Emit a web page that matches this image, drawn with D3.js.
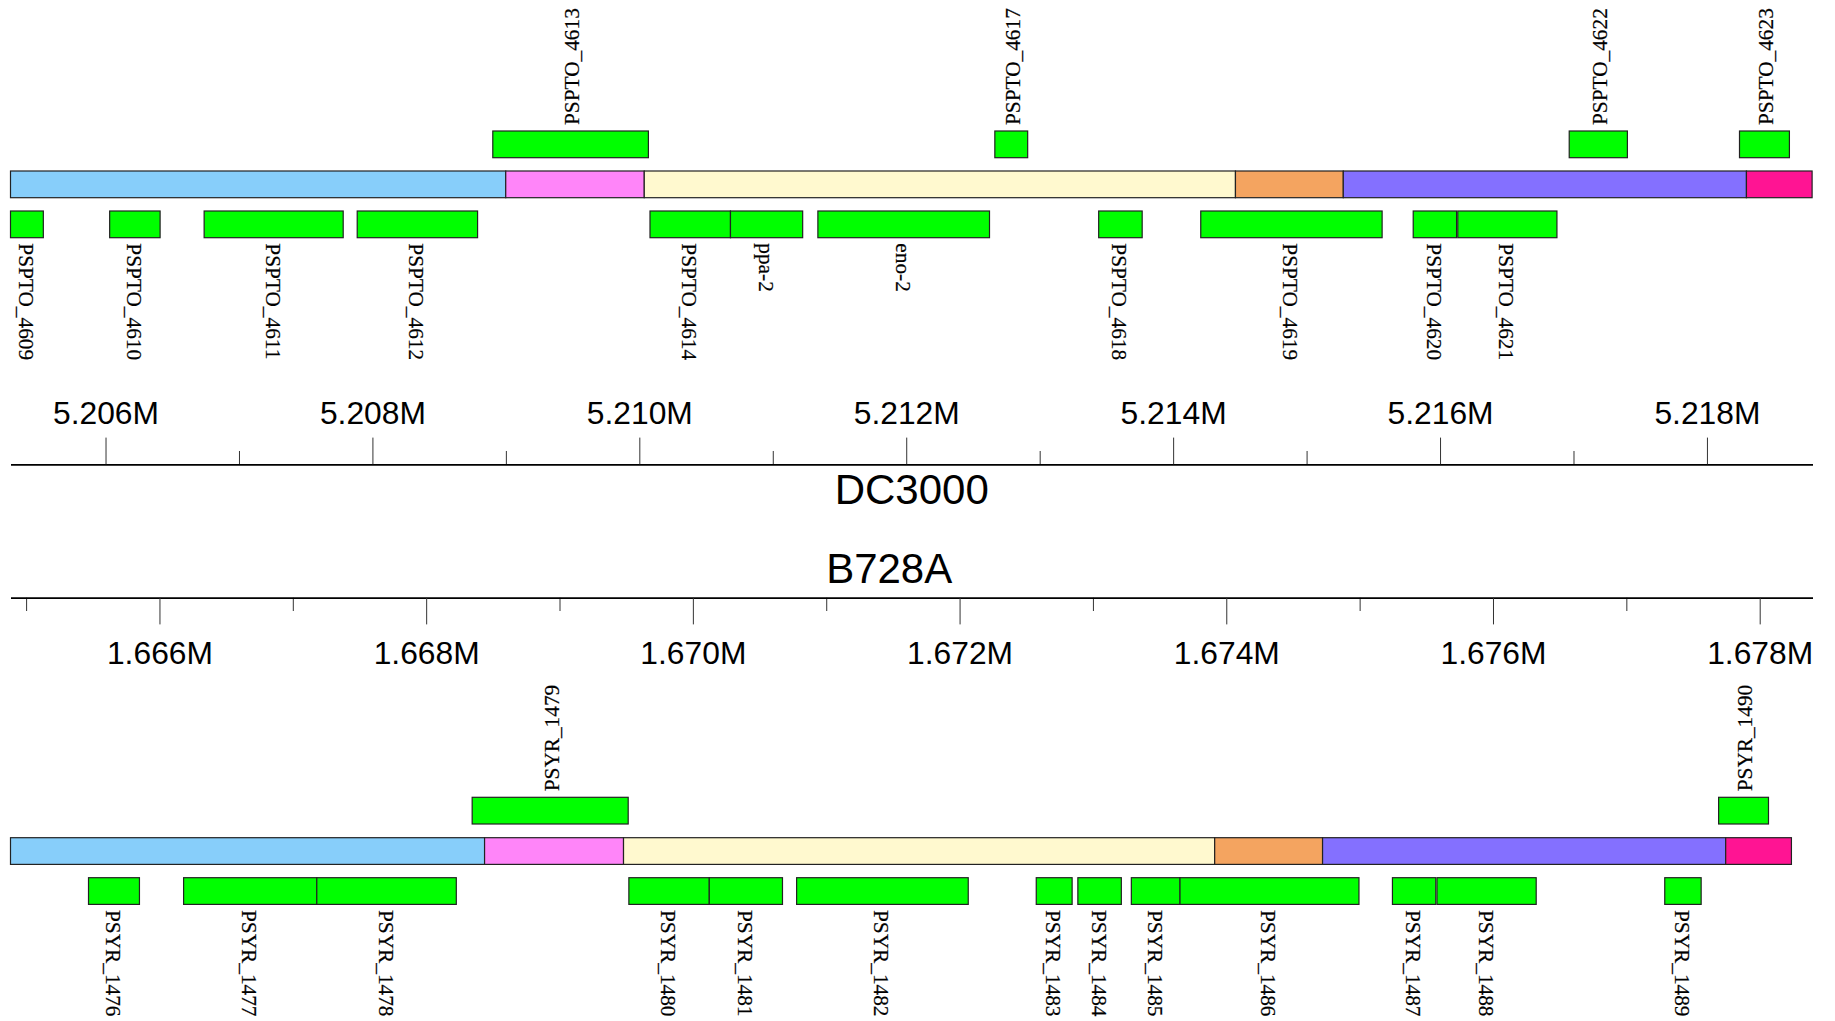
<!DOCTYPE html>
<html>
<head>
<meta charset="utf-8">
<script src="https://cdn.jsdelivr.net/npm/d3@7"></script>
<style>
  html, body { margin: 0; padding: 0; background: #fff; }
  svg { display: block; }
</style>
</head>
<body>
<svg id="chart" width="1835" height="1021"></svg>
<script>
// ---------------- DATA ----------------
// DC3000 track
const dc3000Domain = [5205288, 5218791];
const dc3000Segments = [5205288, 5208999, 5210037, 5214467, 5215275, 5218296, 5218788];
const segmentColors = ["#87CEFA", "#FF85F9", "#FFF9CF", "#F4A460", "#8470FF", "#FF1493"];
const dc3000LowerNames  = ["PSPTO_4609","PSPTO_4610","PSPTO_4611","PSPTO_4612","PSPTO_4614","ppa-2","eno-2","PSPTO_4618","PSPTO_4619","PSPTO_4620","PSPTO_4621"];
const dc3000LowerStarts = [5205288, 5206031, 5206739, 5207886, 5210080, 5210683, 5211338, 5213442, 5214207, 5215799, 5216133];
const dc3000LowerEnds   = [5205534, 5206409, 5207781, 5208788, 5210683, 5211224, 5212624, 5213768, 5215566, 5216124, 5216876];
const dc3000UpperNames  = ["PSPTO_4613","PSPTO_4617","PSPTO_4622","PSPTO_4623"];
const dc3000UpperStarts = [5208902, 5212664, 5216968, 5218244];
const dc3000UpperEnds   = [5210068, 5212910, 5217404, 5218618];

// B728A track
const b728aDomain = [1664883, 1678396];
const b728aSegments = [1664883, 1668438, 1669480, 1673913, 1674722, 1677745, 1678238];
const b728aLowerNames  = ["PSYR_1476","PSYR_1477","PSYR_1478","PSYR_1480","PSYR_1481","PSYR_1482","PSYR_1483","PSYR_1484","PSYR_1485","PSYR_1486","PSYR_1487","PSYR_1488","PSYR_1489"];
const b728aLowerStarts = [1665468, 1666181, 1667180, 1669520, 1670123, 1670778, 1672575, 1672887, 1673288, 1673653, 1675246, 1675580, 1677288];
const b728aLowerEnds   = [1665850, 1667180, 1668226, 1670123, 1670672, 1672065, 1672844, 1673213, 1673653, 1674995, 1675571, 1676324, 1677561];
const b728aUpperNames  = ["PSYR_1479","PSYR_1490"];
const b728aUpperStarts = [1668345, 1677692];
const b728aUpperEnds   = [1669515, 1678066];

const trackTitles = ["DC3000", "B728A"];

// ---------------- DRAW ----------------
const svg = d3.select("#chart");
const X0 = 10.5, X1 = 1812.5;
const H = 26.7;
const GENE_FILL = "#00FF00";
const sans = "'Liberation Sans', Arial, Helvetica, sans-serif";
const serif = "'Liberation Serif', 'Times New Roman', Times, serif";

function zip(names, starts, ends) {
  return names.map((n, i) => ({ name: n, start: starts[i], end: ends[i] }));
}

function drawTrack(domain, segs, lower, upper, ys) {
  const x = d3.scaleLinear().domain(domain).range([X0, X1]);
  const g = svg.append("g");
  // main bar
  const segData = d3.range(segs.length - 1).map(i => ({ s: segs[i], e: segs[i + 1], c: segmentColors[i] }));
  g.selectAll("rect.seg").data(segData).join("rect")
    .attr("class", "seg")
    .attr("x", d => x(d.s)).attr("width", d => x(d.e) - x(d.s))
    .attr("y", ys.bar).attr("height", H)
    .attr("fill", d => d.c).attr("stroke", "#222").attr("stroke-width", 1.2);
  // genes
  const drawGenes = (data, y, isUpper) => {
    g.selectAll(null).data(data).join("rect")
      .attr("x", d => x(d.start)).attr("width", d => x(d.end) - x(d.start))
      .attr("y", y).attr("height", H)
      .attr("fill", GENE_FILL).attr("stroke", "#222").attr("stroke-width", 1.2);
    g.selectAll(null).data(data).join("text")
      .attr("transform", d => {
        const cx = (x(d.start) + x(d.end)) / 2;
        return isUpper
          ? `translate(${cx + 1.5},${y - 6}) rotate(-90)`
          : `translate(${cx - 1},${y + H + 5.6}) rotate(90)`;
      })
      .attr("text-anchor", "start")
      .attr("dominant-baseline", "central")
      .attr("font-family", serif)
      .attr("font-size", 21.3)
      .attr("fill", "#000")
      .attr("stroke", "#000").attr("stroke-width", 0.2)
      .text(d => d.name);
  };
  drawGenes(lower, ys.lower, false);
  drawGenes(upper, ys.upper, true);
  return x;
}

function drawAxis(x, y, orient, labelY) {
  const majors = d3.range(Math.ceil(x.domain()[0] / 2000) * 2000, x.domain()[1], 2000);
  const minors = d3.range(Math.ceil(x.domain()[0] / 1000) * 1000, x.domain()[1], 1000).filter(v => v % 2000 !== 0);
  const mk = orient === "top" ? d3.axisTop : d3.axisBottom;
  const gMinor = svg.append("g").attr("transform", `translate(0,${y})`)
    .call(mk(x).tickValues(minors).tickSize(13.3).tickSizeOuter(0).tickFormat(""));
  const gMajor = svg.append("g").attr("transform", `translate(0,${y})`)
    .call(mk(x).tickValues(majors).tickSize(26.7).tickSizeOuter(0)
      .tickFormat(v => (v / 1e6).toFixed(3) + "M"));
  [gMinor, gMajor].forEach(gg => {
    gg.select(".domain").attr("stroke", "#000").attr("stroke-width", 1.5);
    gg.selectAll(".tick line").attr("stroke", "#333").attr("stroke-width", 1);
  });
  gMajor.selectAll(".tick text")
    .attr("y", labelY).attr("dy", 0)
    .attr("font-family", sans).attr("font-size", 31.8).attr("fill", "#000");
}

const xTop = drawTrack(dc3000Domain, dc3000Segments,
  zip(dc3000LowerNames, dc3000LowerStarts, dc3000LowerEnds),
  zip(dc3000UpperNames, dc3000UpperStarts, dc3000UpperEnds),
  { upper: 131, bar: 171, lower: 211 });
drawAxis(xTop, 464.3, "top", -40);

const xBot = drawTrack(b728aDomain, b728aSegments,
  zip(b728aLowerNames, b728aLowerStarts, b728aLowerEnds),
  zip(b728aUpperNames, b728aUpperStarts, b728aUpperEnds),
  { upper: 797.3, bar: 837.7, lower: 877.7 });
drawAxis(xBot, 597.7, "bottom", 66.3);

// titles
svg.append("text").attr("x", 911.7).attr("y", 504)
  .attr("text-anchor", "middle").attr("font-family", sans).attr("font-size", 42)
  .text(trackTitles[0]);
svg.append("text").attr("x", 889.2).attr("y", 583)
  .attr("text-anchor", "middle").attr("font-family", sans).attr("font-size", 42)
  .text(trackTitles[1]);
</script>
</body>
</html>
